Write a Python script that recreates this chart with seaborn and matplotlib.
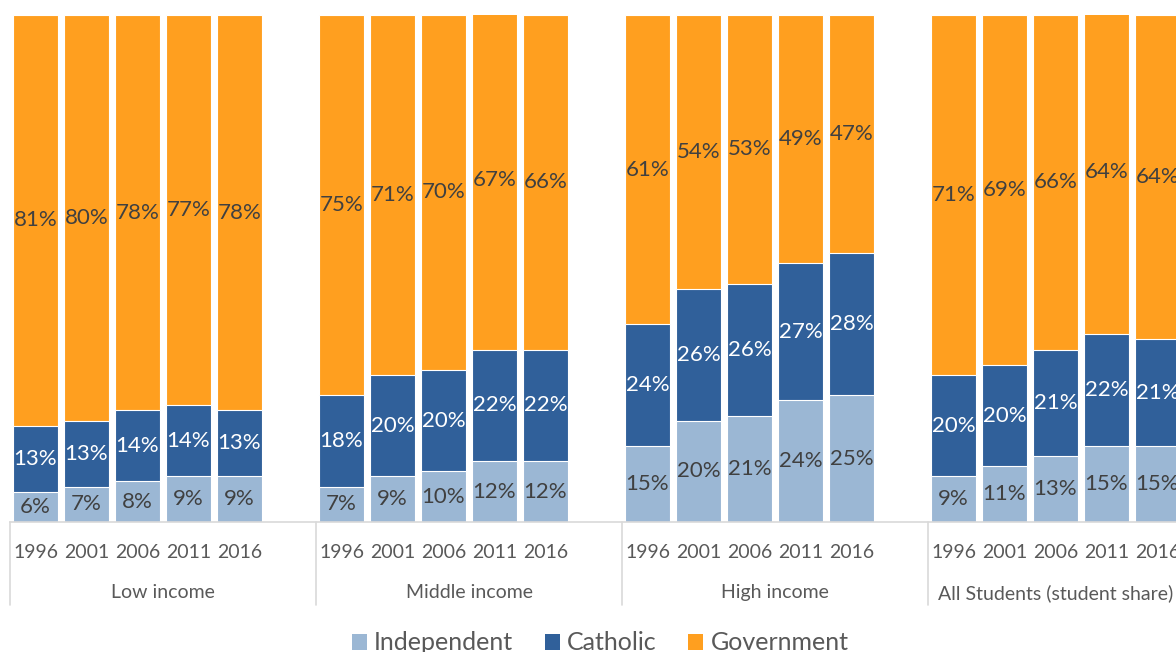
import numpy as np
import pandas as pd
import seaborn as sns
import matplotlib.pyplot as plt
import matplotlib.transforms as mtransforms
from matplotlib.patches import Patch

# School sector share by income group and census year (percent)
groups = ["Low income", "Middle income", "High income", "All Students (student share)"]
years = ["1996", "2001", "2006", "2011", "2016"]
independent = [[6, 7, 8, 9, 9], [7, 9, 10, 12, 12], [15, 20, 21, 24, 25], [9, 11, 13, 15, 15]]
catholic = [[13, 13, 14, 14, 13], [18, 20, 20, 22, 22], [24, 26, 26, 27, 28], [20, 20, 21, 22, 21]]
government = [[81, 80, 78, 77, 78], [75, 71, 70, 67, 66], [61, 54, 53, 49, 47], [71, 69, 66, 64, 64]]
sectors = ["Independent", "Catholic", "Government"]

C_IND = "#9BB7D4"
C_CATH = "#30609A"
C_GOV = "#FF9F1F"
TXT = "#404040"
AXC = "#D9D9D9"

rows = []
order = []
for gi, g in enumerate(groups):
    if gi > 0:
        order.append(f"gap{gi}")
    for yi, y in enumerate(years):
        key = f"{g}|{y}"
        order.append(key)
        i, c, v = independent[gi][yi], catholic[gi][yi], government[gi][yi]
        rows.append(dict(slot=key, group=g, year=y, ind=i, cath=c, gov=v,
                         ind_cath=i + c, total=i + c + v))
df = pd.DataFrame(rows)

sns.set_theme(style="white")
plt.rcParams["font.family"] = ["Lato", "DejaVu Sans"]

W, H = 1176, 652
fig = plt.figure(figsize=(W / 100, H / 100), dpi=100)
slot_px = 51
ax = fig.add_axes([10 / W, (H - 522) / H, len(order) * slot_px / W, 507 / H])

# stacked bars drawn as overlapping cumulative layers
for col, color in [("total", C_GOV), ("ind_cath", C_CATH), ("ind", C_IND)]:
    sns.barplot(data=df, x="slot", y=col, order=order, color=color, saturation=1,
                width=0.88, edgecolor="white", linewidth=0.8, errorbar=None, ax=ax)

ax.set_xlim(-0.5, len(order) - 0.5)
ax.set_ylim(0, 100)
ax.set_xlabel("")
ax.set_ylabel("")
ax.set_xticks([])
ax.set_yticks([])
for s in ["left", "right", "top"]:
    ax.spines[s].set_visible(False)
ax.spines["bottom"].set_color(AXC)
ax.spines["bottom"].set_linewidth(1.2)

pos = {k: i for i, k in enumerate(order)}
LFS = 16
for _, r in df.iterrows():
    x = pos[r.slot]
    ax.text(x, r.ind / 2, f"{r.ind}%", ha="center", va="center", fontsize=LFS, color=TXT)
    ax.text(x, r.ind + r.cath / 2, f"{r.cath}%", ha="center", va="center", fontsize=LFS, color="white")
    ax.text(x, r.ind_cath + r.gov / 2, f"{r.gov}%", ha="center", va="center", fontsize=LFS, color=TXT)

trans = mtransforms.blended_transform_factory(ax.transData, ax.transAxes)
for _, r in df.iterrows():
    ax.text(pos[r.slot], -0.06, r.year, transform=trans, ha="center", va="center",
            fontsize=14, color="#595959", clip_on=False)
for gi, g in enumerate(groups):
    first = pos[f"{g}|{years[0]}"]
    last = pos[f"{g}|{years[-1]}"]
    ax.text((first + last) / 2 if gi == len(groups) - 1 else first + 2.5, -0.14, g,
            transform=trans, ha="center", va="center", fontsize=14, color="#595959", clip_on=False)
    ax.plot([first - 0.5, first - 0.5], [0, -0.164], transform=trans, color=AXC, lw=1.2, clip_on=False)

handles = [Patch(facecolor=c, edgecolor="none") for c in (C_IND, C_CATH, C_GOV)]
fig.legend(handles, sectors, loc="center", bbox_to_anchor=(600 / W, (H - 643) / H), ncol=3,
           frameon=False, fontsize=18, labelcolor="#595959", handlelength=0.6, handleheight=0.6,
           handletextpad=0.3, columnspacing=1.25, borderpad=0)

fig.savefig("out.png", dpi=100)
